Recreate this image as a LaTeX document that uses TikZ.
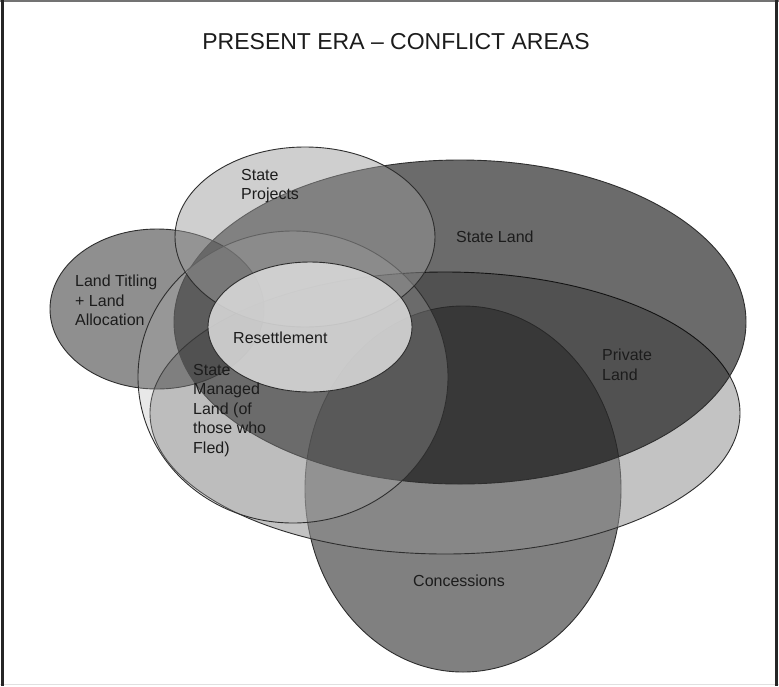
\documentclass[tikz,border=0pt]{standalone}
\usepackage{fontspec}
\setmainfont{Liberation Sans}
\definecolor{privfill}{HTML}{8F8F8F}
\definecolor{smfill}{HTML}{AFAFAF}
\definecolor{spfill}{HTML}{9B9B9B}
\definecolor{resfill}{HTML}{D9D9D9}
\definecolor{edge}{HTML}{2E2E2E}
\definecolor{ink}{HTML}{1C1C1C}
\begin{document}
\begin{tikzpicture}[x=1pt,y=-1pt,
  region/.style={draw=edge, line width=0.9pt},
  lbl/.style={font=\fontsize{16}{19.5}\selectfont, text=ink, text opacity=1, fill opacity=1, inner sep=0pt, align=left},
  titlestyle/.style={font=\fontsize{23}{27}\selectfont, text=ink, inner sep=0pt}]
\useasboundingbox (0,0) rectangle (779,686);
\fill[white] (0,0) rectangle (779,686);
% frame
\draw[black!55, line width=1.5pt] (0,1) -- (779,1);
\draw[black!12, line width=1.5pt] (0,684.5) -- (779,684.5);
\draw[black!85, line width=2.5pt] (2.5,0) -- (2.5,686);
\draw[black!85, line width=2.5pt] (776.5,0) -- (776.5,686);
% regions (bottom to top)
\draw[region, fill=black!50] (463,489) ellipse [x radius=158pt, y radius=183pt];
\draw[region, fill=privfill, fill opacity=0.53] (445,413) ellipse [x radius=295pt, y radius=141pt];
\draw[region, fill=black, fill opacity=0.44] (157,309) ellipse [x radius=107pt, y radius=80pt];
\draw[region, fill=black, fill opacity=0.58] (460,322) ellipse [x radius=286pt, y radius=162pt];
\draw[region, fill=smfill, fill opacity=0.28] (293,377) ellipse [x radius=155pt, y radius=146pt];
\draw[region, fill=spfill, fill opacity=0.47] (305,237) ellipse [x radius=130pt, y radius=90pt];
\draw[region, fill=resfill, fill opacity=0.88] (310,327) ellipse [x radius=102pt, y radius=65pt];
% texts
\node[titlestyle] (title) at (396,42) {PRESENT ERA \textendash\ CONFLICT AREAS};
\node[lbl, anchor=north west] (sp) at (241,169) {State\\Projects};
\node[lbl, anchor=west] (sl) at (456,237) {State Land};
\node[lbl, anchor=north west] (lt) at (75,275) {Land Titling\\+ Land\\Allocation};
\node[lbl, anchor=west] (res) at (233,338) {Resettlement};
\node[lbl, anchor=north west] (sm) at (193,364) {State\\Managed\\Land (of\\those who\\Fled)};
\node[lbl, anchor=north west] (pl) at (602,349) {Private\\Land};
\node[lbl, anchor=west] (con) at (413,581) {Concessions};
\end{tikzpicture}
\end{document}
